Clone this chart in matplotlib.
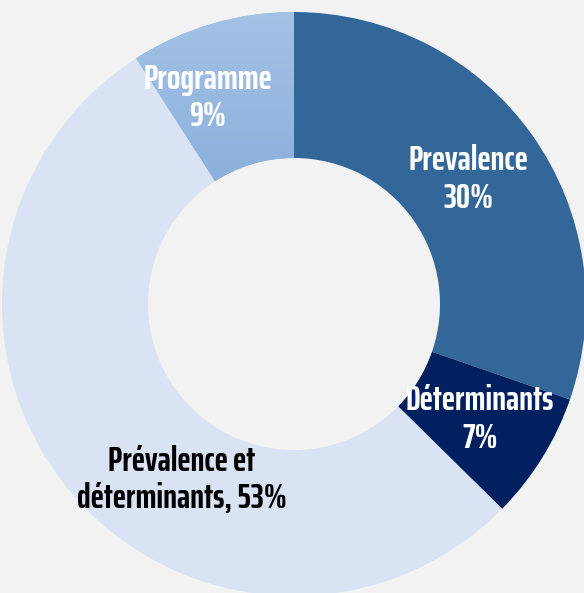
import numpy as np
import matplotlib
matplotlib.use("Agg")
import matplotlib.pyplot as plt
from matplotlib.colors import LinearSegmentedColormap

labels = ["Prevalence", "Déterminants", "Prévalence et déterminants", "Programme"]
values = [30, 7, 53, 9]
label_texts = ["Prevalence\n30%", "Déterminants\n7%", "Prévalence et\ndéterminants, 53%", "Programme\n9%"]
colors = ["#346799", "#00205f", "#dae3f3", "#97b7e0"]
text_colors = ["white", "white", "black", "white"]

BG = "#f2f2f2"
FONT = ["Saira ExtraCondensed", "Antonio", "DejaVu Sans"]

W, H = 584, 593
fig = plt.figure(figsize=(W / 100, H / 100), dpi=100, facecolor=BG)
cx, cy, R = 294, 304, 292
ax = fig.add_axes([(cx - R) / W, (H - cy - R) / H, 2 * R / W, 2 * R / H])
ax.set_facecolor(BG)

wedges, _ = ax.pie(values, colors=colors, startangle=90, counterclock=False,
                   radius=1, wedgeprops=dict(width=0.5, linewidth=0))

# gradient fill for "Programme"
prog = wedges[3]
cmap = LinearSegmentedColormap.from_list("g", ["#a4c2e6", "#7aa2d3"])
grad = np.linspace(0, 1, 256).reshape(-1, 1)
im = ax.imshow(grad, cmap=cmap, extent=[-1, 1, 0.0, 1.0], origin="upper",
               aspect="auto", zorder=prog.get_zorder() + 0.1)
im.set_clip_path(prog)

# label positions (angle from wedge mid, radius within ring)
total = sum(values)
cum = np.cumsum([0] + values[:-1])
mids = list(90 - (cum + np.array(values) / 2) / total * 360)
radii = [0.735, 0.75, 0.715, 0.765]
mids[2] = -122.6
mids[3] = 112.7
for t, a, r, c in zip(label_texts, mids, radii, text_colors):
    x = r * np.cos(np.deg2rad(a))
    y = r * np.sin(np.deg2rad(a))
    ax.text(x, y, t, ha="center", va="center", color=c, fontsize=25.5,
            fontweight="bold", family=FONT, linespacing=1.18, zorder=10)

ax.set_xlim(-1, 1)
ax.set_ylim(-1, 1)
ax.set_aspect("equal")
ax.axis("off")

fig.savefig("out.png", dpi=100, facecolor=BG)
